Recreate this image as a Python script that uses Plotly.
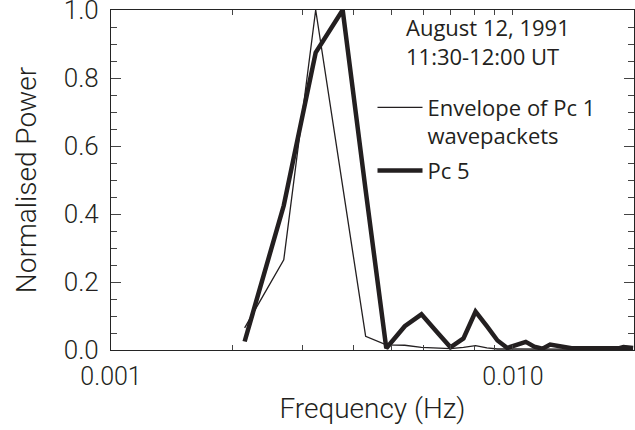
import plotly.graph_objects as go

# Frequency bins (Hz) of the two spectra
freq_hz = [0.00215, 0.00269, 0.00323, 0.00377, 0.00430, 0.00484, 0.00538,
           0.00592, 0.00646, 0.00699, 0.00753, 0.00807, 0.00861, 0.00915,
           0.00968, 0.01022, 0.01076, 0.01130, 0.01184, 0.01237, 0.01291,
           0.01345, 0.01399, 0.01453, 0.01506, 0.01560, 0.01614, 0.01668,
           0.01722, 0.01775, 0.01829, 0.01883, 0.01937, 0.01990]

# Normalised power spectrum of the Pc 1 wavepacket envelope
envelope_pc1 = [0.065, 0.265, 1.000, 0.485, 0.040, 0.015, 0.014, 0.008,
                0.005, 0.004, 0.008, 0.013, 0.006, 0.003, 0.003, 0.003,
                0.002, 0.003, 0.002, 0.003, 0.003, 0.002, 0.002, 0.002,
                0.002, 0.002, 0.002, 0.002, 0.002, 0.002, 0.003, 0.003,
                0.002, 0.002]

# Normalised power spectrum of the Pc 5 pulsation
pc5 = [0.025, 0.425, 0.875, 1.000, 0.470, 0.005, 0.070, 0.105, 0.054,
       0.008, 0.034, 0.113, 0.070, 0.028, 0.006, 0.014, 0.024, 0.010,
       0.004, 0.016, 0.012, 0.006, 0.005, 0.005, 0.005, 0.005, 0.005,
       0.005, 0.005, 0.005, 0.005, 0.009, 0.007, 0.006]

# Frequency ticks: decades labelled, intermediate steps unlabelled
x_tick_vals = [0.001, 0.002, 0.003, 0.004, 0.005, 0.006, 0.007, 0.008,
               0.009, 0.01, 0.02]
x_tick_text = ["0.001", "", "", "", "", "", "", "", "", "0.010", ""]

INK = "#231f20"
AXIS_FONT = "Roboto, DejaVu Sans, sans-serif"
TEXT_FONT = "Open Sans, Noto Sans, sans-serif"

fig = go.Figure()
fig.add_trace(go.Scatter(
    x=freq_hz, y=envelope_pc1, mode="lines",
    name="Envelope of Pc 1<br>wavepackets", legendgroup="pc1",
    line=dict(color=INK, width=1.3),
))
fig.add_trace(go.Scatter(
    x=freq_hz, y=pc5, mode="lines", name="Pc 5", legendgroup="pc5",
    line=dict(color=INK, width=4.5),
))

fig.add_annotation(
    text="August 12, 1991<br>11:30-12:00 UT",
    xref="paper", yref="paper", x=0.561, y=1.0,
    xanchor="left", yanchor="top", align="left", showarrow=False,
    font=dict(family=TEXT_FONT, size=22, color=INK),
)

fig.update_layout(
    template="simple_white",
    width=635, height=430,
    margin=dict(l=111, r=1, t=10, b=80, autoexpand=False),
    showlegend=True,
    legend=dict(
        x=0.5, y=0.775, xanchor="left", yanchor="top",
        bgcolor="rgba(0,0,0,0)", valign="top",
        font=dict(family=TEXT_FONT, size=22, color=INK),
        itemwidth=45, tracegroupgap=3,
    ),
)

fig.update_xaxes(
    type="log", range=[-3, -1.69897], automargin=False,
    tickmode="array", tickvals=x_tick_vals, ticktext=x_tick_text,
    ticks="inside", ticklen=5, layer="above traces",
    showline=True, mirror="ticks",
    tickfont=dict(family=AXIS_FONT, size=25, color=INK, weight=300),
    ticklabelstandoff=4,
    title=dict(text="Frequency (Hz)", standoff=8,
               font=dict(family=AXIS_FONT, size=28, color=INK, weight=300)),
)

fig.update_yaxes(
    range=[0, 1.0], automargin=False,
    dtick=0.2, tickformat=".1f",
    ticks="inside", ticklen=10, layer="above traces",
    minor=dict(dtick=0.05, ticks="inside", ticklen=6),
    showline=True, mirror="ticks",
    tickfont=dict(family=AXIS_FONT, size=26, color=INK, weight=300),
    ticklabelstandoff=6, ticklabeloverflow="allow",
    title=dict(text="Normalised Power", standoff=18,
               font=dict(family=AXIS_FONT, size=28, color=INK, weight=300)),
)

fig.write_html("out.html")
